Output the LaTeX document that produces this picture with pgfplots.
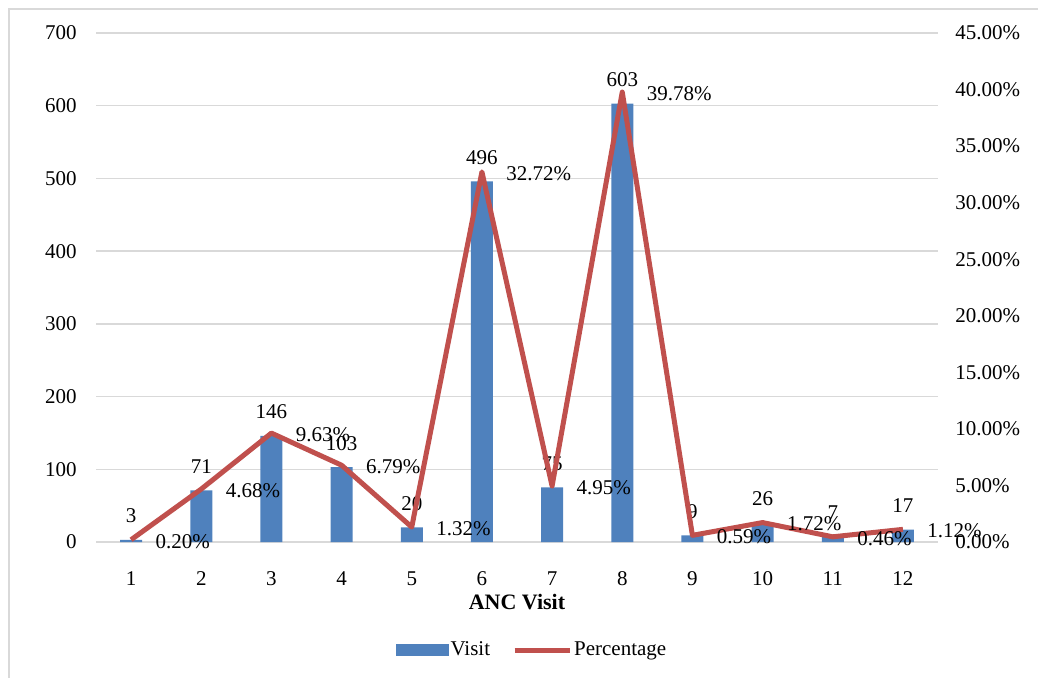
\documentclass[border=0pt]{standalone}
\usepackage{pgfplots}
\pgfplotsset{compat=1.18}
\usepackage{pgfplotstable}
\usepackage{fontspec}
\setmainfont{Liberation Serif}
\definecolor{visitblue}{HTML}{4F81BD}
\definecolor{pctred}{HTML}{C0504D}
\definecolor{gridgray}{HTML}{D9D9D9}

% ANC visit number, count of women, share of total (%)
\pgfplotstableread{
n  visit pct
1  3     0.20
2  71    4.68
3  146   9.63
4  103   6.79
5  20    1.32
6  496   32.72
7  75    4.95
8  603   39.78
9  9     0.59
10 26    1.72
11 7     0.46
12 17    1.12
}\ancdata

\begin{document}
\fontsize{10.5}{12.5}\selectfont
\begin{tikzpicture}
\useasboundingbox (0,0) rectangle (519pt,-338.5pt);
% chart frame
\draw[gridgray, line width=0.75pt] (4.5pt,-345pt) -- (4.5pt,-4.5pt) -- (525pt,-4.5pt);

\pgfplotsset{
  common/.style={
    scale only axis, width=421pt, height=254.5pt,
    at={(48pt,-271pt)}, anchor=south west,
    xmin=0.5, xmax=12.5, ymin=0,
    /pgf/number format/assume math mode=true,
    tick style={draw=none}, axis line style={draw=none},
    clip=false,
    font=\fontsize{10.5}{12.5}\selectfont,
  }
}

% counts on the left axis
\begin{axis}[common,
  ymax=700, ytick distance=100,
  xtick={1,...,12},
  ymajorgrids, grid style={gridgray, line width=0.75pt},
  yticklabel style={xshift=-6pt},
  xticklabel style={yshift=-7pt},
  xlabel={\textbf{ANC Visit}},
  xlabel style={at={(axis description cs:0.5,0)}, anchor=center, yshift=-30pt, font=\fontsize{11}{13}\selectfont},
  ybar, bar width=11pt,
  nodes near coords,
  every node near coord/.style={anchor=center, yshift=12pt, text=black},
]
\addplot[fill=visitblue, draw=none] table[x=n, y=visit]{\ancdata};
\end{axis}

% percentages on the right axis
\begin{axis}[common,
  ymax=45, ytick distance=5,
  axis y line*=right, axis x line=none,
  yticklabel={\pgfmathprintnumber[fixed,fixed zerofill,precision=2]{\tick}\%},
  yticklabel style={xshift=5pt},
  legend style={at={(axis description cs:0.5,0)}, anchor=center,
    yshift=-54pt, xshift=7.5pt, draw=none, fill=none,
    legend columns=-1, font=\fontsize{10.5}{12.5}\selectfont,
    nodes={inner sep=1pt},
    /tikz/every even column/.append style={column sep=10pt}},
]
\addlegendimage{legend image code/.code={\fill[visitblue] (0pt,-2.75pt) rectangle (26pt,2.75pt);}}
\addlegendentry{Visit}
\addlegendimage{legend image code/.code={\draw[pctred, line width=2.5pt] (0pt,0pt) -- (27.5pt,0pt);}}
\addlegendentry{Percentage}
\addplot[pctred, line width=2.5pt, line join=round, forget plot,
  nodes near coords={\pgfmathprintnumber[fixed,fixed zerofill,precision=2]{\pgfplotspointmeta}\%},
  every node near coord/.style={anchor=west, inner sep=0pt, xshift=11pt, yshift=-0.75pt, text=black},
] table[x=n, y=pct]{\ancdata};
\end{axis}
\end{tikzpicture}
\end{document}
